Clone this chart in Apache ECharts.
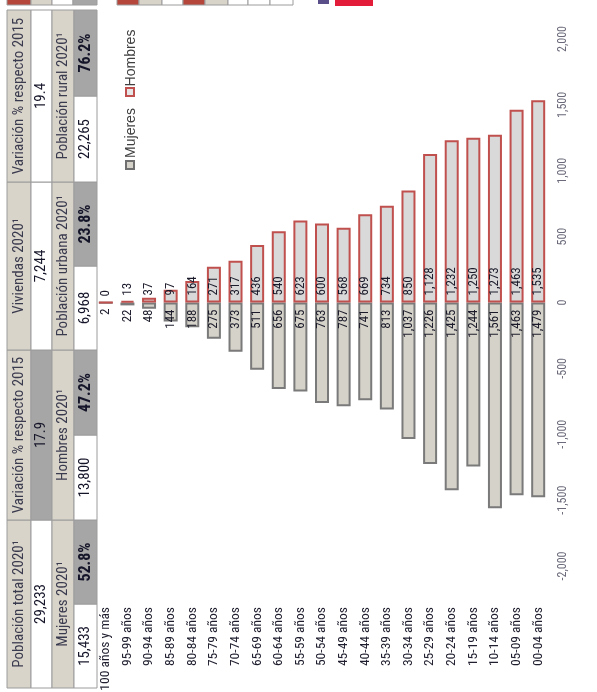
<!DOCTYPE html>
<html><head><meta charset="utf-8">
<script src="https://cdn.jsdelivr.net/npm/echarts@6/dist/echarts.min.js"></script>
<style>html,body{margin:0;padding:0;background:#fff}#chart{width:597px;height:692px}</style>
</head><body><div id="chart"></div>
<script>
// ---------- data ----------
const categories = ['100 años y más','95-99 años','90-94 años','85-89 años','80-84 años','75-79 años','70-74 años','65-69 años','60-64 años','55-59 años','50-54 años','45-49 años','40-44 años','35-39 años','30-34 años','25-29 años','20-24 años','15-19 años','10-14 años','05-09 años','00-04 años'];
const mujeres = [2,22,48,144,188,275,373,511,656,675,763,787,741,813,1037,1226,1425,1244,1561,1463,1479];
const hombres = [0,13,37,97,164,271,317,436,540,623,600,568,669,734,850,1128,1232,1250,1273,1463,1535];
const seriesNames = ['Mujeres','Hombres'];
const axisMin = -2000, axisMax = 2000, axisInterval = 500;
const headerLabels = ['Población total 2020¹','Variación % respecto 2015','Viviendas 2020¹','Variación % respecto 2015'];
const headerValues = ['29,233','17.9','7,244','19.4'];
const subLabels = ['Mujeres 2020¹','Hombres 2020¹','Población urbana 2020¹','Población rural 2020¹'];
const subValues = ['15,433','52.8%','13,800','47.2%','6,968','23.8%','22,265','76.2%'];

// ---------- styling / layout ----------
const NARROW = '"Roboto Condensed","Open Sans Condensed","DejaVu Sans Condensed",sans-serif';
const REG = '"Liberation Sans",Arial,sans-serif';
const BEIGE = '#d8d4c9', GRAY = '#a6a6a6', WHITE = '#ffffff', LINE = '#9c9c9c';
const rowX = [7, 31, 52, 74, 97];
const colY = [688, 520, 350, 182, 10];
const row2Fill = [WHITE, GRAY, WHITE, WHITE];

const fmt = v => Math.abs(v).toLocaleString('en-US');

function cell(x0, x1, yA, yB, fill) {
  return {type:'rect', shape:{x:x0, y:Math.min(yA,yB), width:x1-x0, height:Math.abs(yB-yA)},
    style:{fill:fill, stroke:LINE, lineWidth:1}, silent:true};
}
function vtext(cx, cy, text, size, weight, color, family) {
  return {type:'text', x:cx, y:cy, rotation:Math.PI/2, silent:true,
    style:{text:text, fontSize:size, fontWeight:weight, fontFamily:family||NARROW, fill:color,
      align:'center', verticalAlign:'middle', textAlign:'center', textVerticalAlign:'middle'}};
}

const graphics = [];
// main table
for (let c = 0; c < 4; c++) {
  const y0 = colY[c], y1 = colY[c+1], ym = (y0+y1)/2;
  graphics.push(cell(rowX[0], rowX[1], y0, y1, BEIGE));
  graphics.push(vtext((rowX[0]+rowX[1])/2, ym, headerLabels[c], 15, 'normal', '#3b3b4f'));
  graphics.push(cell(rowX[1], rowX[2], y0, y1, row2Fill[c]));
  graphics.push(vtext((rowX[1]+rowX[2])/2, ym, headerValues[c], 15, 'normal', '#15152a'));
  graphics.push(cell(rowX[2], rowX[3], y0, y1, BEIGE));
  graphics.push(vtext((rowX[2]+rowX[3])/2, ym, subLabels[c], 15, 'normal', '#3b3b4f'));
  for (let h = 0; h < 2; h++) {
    const ya = h === 0 ? y0 : ym, yb = h === 0 ? ym : y1;
    const isPct = h === 1;
    graphics.push(cell(rowX[3], rowX[4], ya, yb, isPct ? GRAY : WHITE));
    graphics.push(vtext((rowX[3]+rowX[4])/2, (ya+yb)/2, subValues[c*2+h], isPct ? 16 : 15, isPct ? 'bold' : 'normal', '#15152a'));
  }
}
// sliver of the table above (cut at top edge)
const sliver = [[7,31,'#b4463c'],[31,52,BEIGE],[52,73,WHITE],[73,97,GRAY],
  [117,139,'#b4463c'],[139,162,BEIGE],[162,183,WHITE],[183,205,'#b4463c'],[205,228,BEIGE],[228,248,WHITE],[248,270,WHITE],[270,293,WHITE]];
sliver.forEach(s => graphics.push({type:'rect', shape:{x:s[0], y:-2, width:s[1]-s[0], height:7}, style:{fill:s[2], stroke:LINE, lineWidth:1}, silent:true}));
graphics.push({type:'rect', shape:{x:318, y:0, width:11, height:4}, style:{fill:'#5b4f8a'}, silent:true});
graphics.push({type:'rect', shape:{x:335, y:0, width:38, height:6}, style:{fill:'#e31c3a'}, silent:true});
// legend
graphics.push({type:'rect', shape:{x:126, y:161, width:8, height:8}, style:{fill:'#d5d2c9', stroke:'#6f6f6f', lineWidth:2}, silent:true});
graphics.push(vtext(131, 133, seriesNames[0], 14, 'normal', '#404040', REG));
graphics.push({type:'rect', shape:{x:126, y:88, width:8, height:8}, style:{fill:'#e6e6e6', stroke:'#c0504d', lineWidth:2}, silent:true});
graphics.push(vtext(131, 58, seriesNames[1], 14, 'normal', '#404040', REG));

const chart = echarts.init(document.getElementById('chart'), null, {renderer:'canvas'});
chart.setOption({
  animation:false,
  backgroundColor:'#ffffff',
  grid:{left:95, right:48, top:39, bottom:126, containLabel:false, outerBoundsMode:'none'},
  xAxis:{type:'category', data:categories, position:'bottom',
    axisLine:{show:false}, axisTick:{show:false}, splitLine:{show:false},
    axisLabel:{interval:0, rotate:90, margin:41, fontSize:13.5, fontFamily:NARROW, color:'#1f1f2f'}},
  yAxis:{type:'value', position:'right', min:axisMin, max:axisMax, interval:axisInterval,
    axisLine:{show:false}, axisTick:{show:false}, splitLine:{show:false},
    axisLabel:{rotate:90, margin:8, fontSize:12, fontFamily:NARROW, color:'#6a6a7a', formatter:v => v.toLocaleString('en-US')}},
  series:[
    {name:seriesNames[0], type:'bar', data:mujeres.map(v => -v), barWidth:14,
      itemStyle:{color:'#d5d2c9', borderColor:'#7a7a7a', borderWidth:2},
      label:{show:true, position:'insideTop', rotate:90, align:'right', verticalAlign:'middle', distance:7,
        fontSize:13, fontFamily:NARROW, color:'#1a1a2a', formatter:p => fmt(p.value)}},
    {name:seriesNames[1], type:'bar', data:hombres, barWidth:14, barGap:'-100%',
      itemStyle:{color:'#d9d9d9', borderColor:'#c0504d', borderWidth:2},
      label:{show:true, position:'insideBottom', rotate:90, align:'left', verticalAlign:'middle', distance:7,
        fontSize:13, fontFamily:NARROW, color:'#1a1a2a', formatter:p => fmt(p.value)}}
  ],
  graphic:{elements:graphics}
});
</script></body></html>
